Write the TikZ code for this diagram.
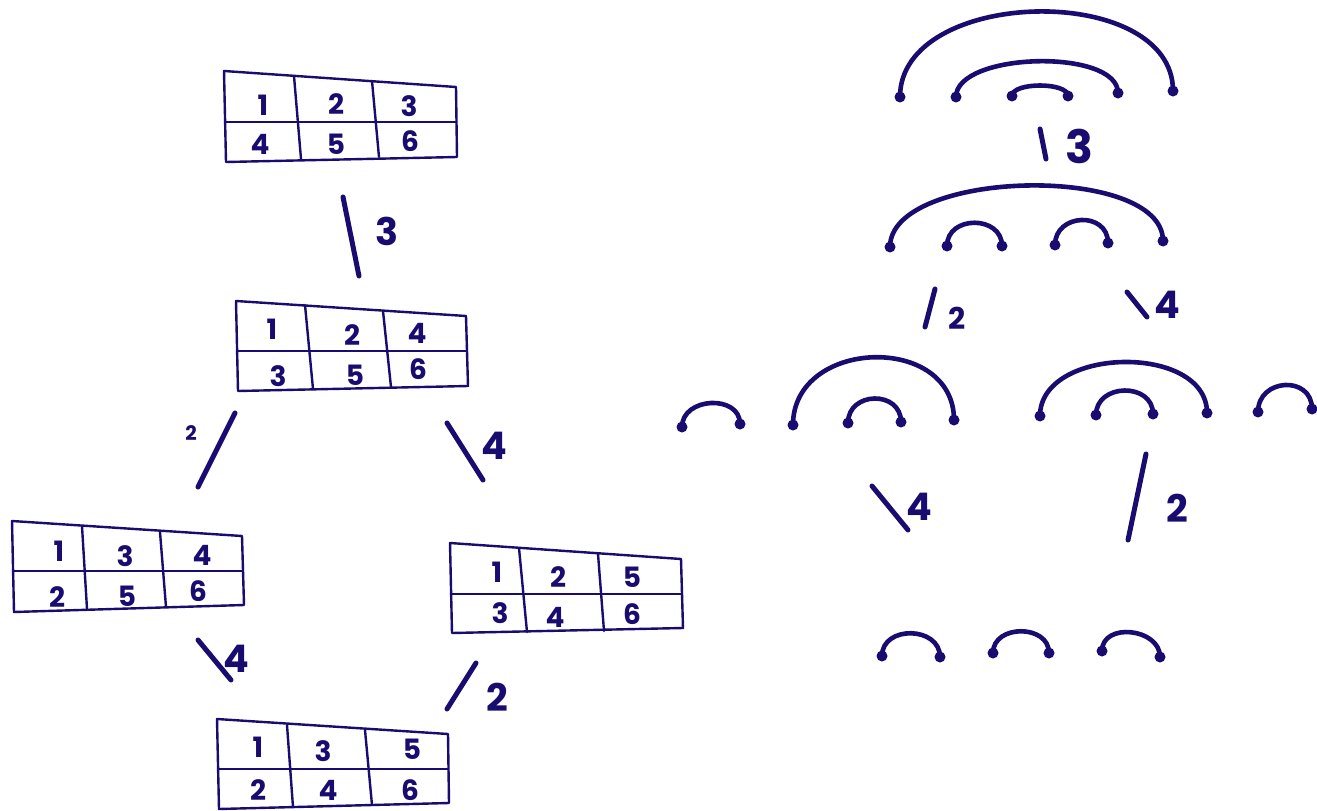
\documentclass[tikz,border=0pt]{standalone}
\usepackage{fontspec}
\setmainfont{Poppins}
\usetikzlibrary{calc}
\definecolor{ink}{RGB}{24,12,112}
\tikzset{
  gridline/.style={draw=ink, line width=2.4pt, line join=round, line cap=round},
  num/.style={text=ink, font=\fontsize{28}{28}\selectfont\bfseries, inner sep=0pt},
  lbl/.style={text=ink, font=\fontsize{38}{38}\selectfont\bfseries, inner sep=0pt},
  slbl/.style={text=ink, font=\fontsize{20}{20}\selectfont\bfseries, inner sep=0pt},
  stroke/.style={draw=ink, line width=5pt, line cap=round},
  arcline/.style={draw=ink, line width=4.6pt, line cap=round},
  dot/.style={circle, fill=ink, inner sep=0pt, minimum size=11pt}
}
\newcommand\myarc[3]{\draw[arcline] (#1.center) .. controls +(0,-#3) and +(0,-#3) .. (#2.center);}
\begin{document}
\begin{tikzpicture}[x=1pt,y=-1pt]
\useasboundingbox[fill=white] (0,0) rectangle (1317,811);

% ---------- Table 1 ----------
\coordinate (t1tl) at (224,71); \coordinate (t1tr) at (456,87);
\coordinate (t1br) at (457,157); \coordinate (t1bl) at (226,162);
\coordinate (t1ml) at (225,122); \coordinate (t1mr) at (456,122);
\coordinate (t1at) at (294,76); \coordinate (t1ab) at (301,159);
\coordinate (t1bt) at (372,81); \coordinate (t1bb) at (379,157);
\draw[gridline] (t1tl) -- (t1tr) -- (t1br) -- (t1bl) -- cycle;
\draw[gridline] (t1ml) -- (t1mr);
\draw[gridline] (t1at) -- (t1ab);
\draw[gridline] (t1bt) -- (t1bb);
\node[num] (t1n1) at (263,105) {1};
\node[num] (t1n2) at (336,104) {2};
\node[num] (t1n3) at (409,106) {3};
\node[num] (t1n4) at (260,144) {4};
\node[num] (t1n5) at (336,144) {5};
\node[num] (t1n6) at (410,141) {6};

% ---------- Table 2 ----------
\coordinate (t2tl) at (236,301); \coordinate (t2tr) at (466,316);
\coordinate (t2br) at (468,386); \coordinate (t2bl) at (238,391);
\coordinate (t2ml) at (237,351); \coordinate (t2mr) at (467,351);
\coordinate (t2at) at (305,305); \coordinate (t2ab) at (313,389);
\coordinate (t2bt) at (383,311); \coordinate (t2bb) at (391,387);
\draw[gridline] (t2tl) -- (t2tr) -- (t2br) -- (t2bl) -- cycle;
\draw[gridline] (t2ml) -- (t2mr);
\draw[gridline] (t2at) -- (t2ab);
\draw[gridline] (t2bt) -- (t2bb);
\node[num] (t2n1) at (272,329) {1};
\node[num] (t2n2) at (352,335) {2};
\node[num] (t2n4) at (417,333) {4};
\node[num] (t2n3) at (278,376) {3};
\node[num] (t2n5) at (355,375) {5};
\node[num] (t2n6) at (418,369) {6};

% ---------- Table 3 ----------
\coordinate (t3tl) at (12,521); \coordinate (t3tr) at (242,536);
\coordinate (t3br) at (244,605); \coordinate (t3bl) at (14,612);
\coordinate (t3ml) at (13,571); \coordinate (t3mr) at (243,571);
\coordinate (t3at) at (82,526); \coordinate (t3ab) at (87,609);
\coordinate (t3bt) at (160,532); \coordinate (t3bb) at (166,607);
\draw[gridline] (t3tl) -- (t3tr) -- (t3br) -- (t3bl) -- cycle;
\draw[gridline] (t3ml) -- (t3mr);
\draw[gridline] (t3at) -- (t3ab);
\draw[gridline] (t3bt) -- (t3bb);
\node[num] (t3n1) at (59,551) {1};
\node[num] (t3n3) at (125,556) {3};
\node[num] (t3n4) at (202,555) {4};
\node[num] (t3n2) at (57,597) {2};
\node[num] (t3n5) at (127,596) {5};
\node[num] (t3n6) at (198,591) {6};

% ---------- Table 4 ----------
\coordinate (t4tl) at (450,543); \coordinate (t4tr) at (681,559);
\coordinate (t4br) at (683,628); \coordinate (t4bl) at (452,633);
\coordinate (t4ml) at (451,594); \coordinate (t4mr) at (682,594);
\coordinate (t4at) at (519,548); \coordinate (t4ab) at (527,632);
\coordinate (t4bt) at (598,554); \coordinate (t4bb) at (604,631);
\draw[gridline] (t4tl) -- (t4tr) -- (t4br) -- (t4bl) -- cycle;
\draw[gridline] (t4ml) -- (t4mr);
\draw[gridline] (t4at) -- (t4ab);
\draw[gridline] (t4bt) -- (t4bb);
\node[num] (t4n1) at (497,572) {1};
\node[num] (t4n2) at (558,577) {2};
\node[num] (t4n5) at (632,577) {5};
\node[num] (t4n3) at (500,613) {3};
\node[num] (t4n4) at (555,617) {4};
\node[num] (t4n6) at (632,614) {6};

% ---------- Table 5 ----------
\coordinate (t5tl) at (217,719); \coordinate (t5tr) at (448,734);
\coordinate (t5br) at (449,803); \coordinate (t5bl) at (219,809);
\coordinate (t5ml) at (218,769); \coordinate (t5mr) at (448,769);
\coordinate (t5at) at (287,725); \coordinate (t5ab) at (293,807);
\coordinate (t5bt) at (365,730); \coordinate (t5bb) at (372,805);
\draw[gridline] (t5tl) -- (t5tr) -- (t5br) -- (t5bl) -- cycle;
\draw[gridline] (t5ml) -- (t5mr);
\draw[gridline] (t5at) -- (t5ab);
\draw[gridline] (t5bt) -- (t5bb);
\node[num] (t5n1) at (258,747) {1};
\node[num] (t5n3) at (323,751) {3};
\node[num] (t5n5) at (412,749) {5};
\node[num] (t5n2) at (258,790) {2};
\node[num] (t5n4) at (328,790) {4};
\node[num] (t5n6) at (410,790) {6};

% ---------- left strokes ----------
\coordinate (s1a) at (343,197); \coordinate (s1b) at (359,276);
\draw[stroke] (s1a) -- (s1b);
\node[lbl] (l1) at (387,231) {3};
\coordinate (s2a) at (235,413); \coordinate (s2b) at (198,487);
\draw[stroke] (s2a) -- (s2b);
\node[slbl] (l2) at (191,433) {2};
\coordinate (s3a) at (447,423); \coordinate (s3b) at (483,480);
\draw[stroke] (s3a) -- (s3b);
\node[lbl] (l3) at (494,446) {4};
\coordinate (s4a) at (198,640); \coordinate (s4b) at (231,680);
\draw[stroke] (s4a) -- (s4b);
\node[lbl] (l4) at (236,659) {4};
\coordinate (s5a) at (476,663); \coordinate (s5b) at (447,709);
\draw[stroke] (s5a) -- (s5b);
\node[lbl] (l5) at (497,697) {2};

% ---------- right: row 1 ----------
\node[dot] (a1) at (900,97) {};
\node[dot] (a2) at (956,97) {};
\node[dot] (a3) at (1012,96) {};
\node[dot] (a4) at (1068,96) {};
\node[dot] (a5) at (1118,93) {};
\node[dot] (a6) at (1173,91) {};
\myarc{a1}{a6}{110}
\myarc{a2}{a5}{45}
\myarc{a3}{a4}{14}
\coordinate (r1a) at (1040,129); \coordinate (r1b) at (1046,159);
\draw[stroke] (r1a) -- (r1b);
\node[lbl,font=\fontsize{46}{46}\selectfont\bfseries] (rl1) at (1079,146) {3};

% ---------- right: row 2 ----------
\node[dot] (b1) at (890,247) {};
\node[dot] (b2) at (947,246) {};
\node[dot] (b3) at (1002,246) {};
\node[dot] (b4) at (1055,245) {};
\node[dot] (b5) at (1108,243) {};
\node[dot] (b6) at (1163,241) {};
\myarc{b1}{b6}{78}
\myarc{b2}{b3}{31}
\myarc{b4}{b5}{32}
\coordinate (r2a) at (935,289); \coordinate (r2b) at (925,327);
\draw[stroke] (r2a) -- (r2b);
\node[lbl,font=\fontsize{30}{30}\selectfont\bfseries] (rl2) at (957,318) {2};
\coordinate (r3a) at (1127,292); \coordinate (r3b) at (1147,317);
\draw[stroke] (r3a) -- (r3b);
\node[lbl] (rl3) at (1167,305) {4};

% ---------- right: row 3 ----------
\node[dot] (c1) at (682,427) {};
\node[dot] (c2) at (740,424) {};
\node[dot] (c3) at (793,425) {};
\node[dot] (c4) at (848,423) {};
\node[dot] (c5) at (901,422) {};
\node[dot] (c6) at (954,420) {};
\node[dot] (c7) at (1040,416) {};
\node[dot] (c8) at (1096,415) {};
\node[dot] (c9) at (1153,414) {};
\node[dot] (c10) at (1207,413) {};
\node[dot] (c11) at (1258,412) {};
\node[dot] (c12) at (1312,409) {};
\myarc{c1}{c2}{30}
\myarc{c3}{c6}{87}
\myarc{c4}{c5}{32}
\myarc{c7}{c10}{70}
\myarc{c8}{c9}{32}
\myarc{c11}{c12}{34}
\coordinate (r4a) at (872,486); \coordinate (r4b) at (908,530);
\draw[stroke] (r4a) -- (r4b);
\node[lbl] (rl4) at (919,507) {4};
\coordinate (r5a) at (1146,454); \coordinate (r5b) at (1128,540);
\draw[stroke] (r5a) -- (r5b);
\node[lbl] (rl5) at (1177,508) {2};

% ---------- right: row 4 ----------
\node[dot] (d1) at (882,656) {};
\node[dot] (d2) at (940,657) {};
\node[dot] (d3) at (993,653) {};
\node[dot] (d4) at (1049,653) {};
\node[dot] (d5) at (1102,651) {};
\node[dot] (d6) at (1160,657) {};
\myarc{d1}{d2}{31}
\myarc{d3}{d4}{29}
\myarc{d5}{d6}{29}
\end{tikzpicture}
\end{document}
